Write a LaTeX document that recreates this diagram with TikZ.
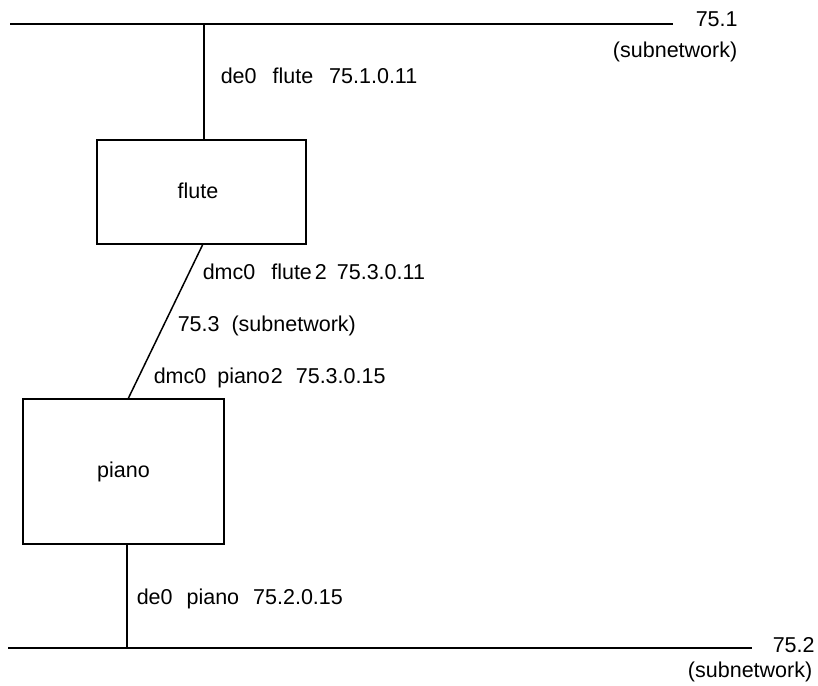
\documentclass[tikz,border=0pt]{standalone}
\usepackage{fontspec}
\setmainfont{Liberation Sans}
\begin{document}
\begin{tikzpicture}[x=1pt,y=-1pt,
  line width=1.5pt,
  txt/.style={font=\fontsize{21.5}{25}\selectfont,inner sep=0pt},
  host/.style={draw,line width=1.5pt,inner sep=0pt,font=\fontsize{21.5}{25}\selectfont},
  lbl/.style={txt,anchor=base west},
  lblr/.style={txt,anchor=base east}]
\useasboundingbox (0,0) rectangle (818,685);
% top subnetwork
\coordinate (t1) at (10,24);
\coordinate (t2) at (673,24);
\coordinate (tj) at (204,24);
\draw (t1) -- (t2);
\node[lbl] (n751) at (695,27) {75.1};
\node[lblr] (s751) at (738,57) {(subnetwork)};
% flute
\node[host,minimum width=209pt,minimum height=104pt] (flute) at (201.5,192) {};
\node[txt] (flutetxt) at (198,191) {flute};
\draw (tj) -- (flute.north -| tj);
\node[lbl] (l1) at (220,83) {de0\hspace{16pt}flute\hspace{16pt}75.1.0.11};
% piano
\node[host,minimum width=201pt,minimum height=145pt] (piano) at (123.5,471.5) {piano};
\coordinate (fb) at (203,244);
\coordinate (pt) at (128,399);
\draw (fb) -- (pt);
\node[lbl] (l2) at (202,279) {dmc0\hspace{16pt}flute\hspace{3pt}2\hspace{10pt}75.3.0.11};
\node[lbl] (l3) at (177,331) {75.3\hspace{12pt}(subnetwork)};
\node[lbl] (l4) at (153,383) {dmc0\hspace{11pt}piano\hspace{1pt}2\hspace{13pt}75.3.0.15};
% bottom subnetwork
\coordinate (b1) at (8,648);
\coordinate (b2) at (752,648);
\coordinate (pb) at (127,544);
\coordinate (bj) at (127,648);
\draw (b1) -- (b2);
\draw (pb) -- (bj);
\node[lbl] (l5) at (136,604) {de0\hspace{14pt}piano\hspace{14pt}75.2.0.15};
\node[lbl] (n752) at (772,652) {75.2};
\node[lblr] (s752) at (813,677) {(subnetwork)};
\end{tikzpicture}
\end{document}
